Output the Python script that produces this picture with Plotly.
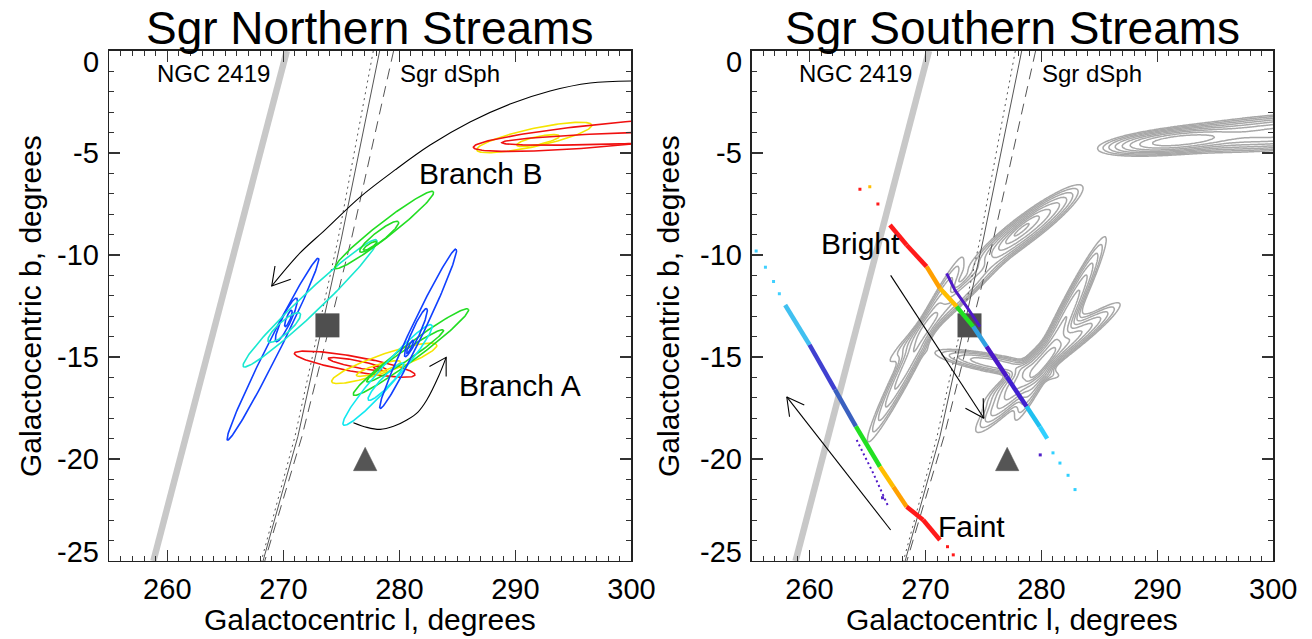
import numpy as np
import plotly.graph_objects as go

# ---------------- figure geometry ----------------
W_FIG, H_FIG = 1312, 639
X_DOM_L = [0.0833, 0.4813]
X_DOM_R = [0.5728, 0.9705]
Y_DOM = [0.1221, 0.9202]
L_RANGE = [255, 300]
B_RANGE = [-25, 0]
SX = (X_DOM_L[1] - X_DOM_L[0]) * W_FIG / (L_RANGE[1] - L_RANGE[0])   # px per degree of l
SY = (Y_DOM[1] - Y_DOM[0]) * H_FIG / (B_RANGE[1] - B_RANGE[0])       # px per degree of b

# ---------------- data ----------------
ngc_l = [270.3, 258.8]
ngc_b = [0.0, -25.0]
sgr_b = [0.0, -9.26, -18.9, -25.0]
sgr_dot_l = [277.75, 274.7, 271.0, 268.1]
sgr_solid_l = [278.3, 274.98, 271.25, 268.25]
sgr_dash_l = [279.5, 275.85, 271.6, 268.4]

square_l, square_b = [273.8], [-13.45]
tri_l, tri_b = 277.05, -20.0
TRI_PX = 23.4

ring_color = ["#1040ff", "#1040ff", "#1040ff",
              "#18e8d0", "#18e8d0",
              "#22dd22", "#22dd22", "#22dd22",
              "#f01010", "#f01010", "#f01010",
              "#f5e400", "#f5e400",
              "#22dd22", "#22dd22",
              "#10e8f0", "#10e8f0",
              "#1040ff", "#1040ff", "#1040ff",
              "#f5e400", "#f5e400",
              "#f01010", "#f01010"]
ring_a_l = [265.18, 269.37, 270.15, 266.56, 268.71, 274.46, 276.6, 276.9,
            270.95, 273.88, 277.76, 274.17, 276.3, 276.04, 277.19, 275.18, 277.33,
            278.34, 280.49, 280.64, 286.67, 290.12, 286.38, 288.82]
ring_a_b = [-19.07, -14.25, -13.51, -15.47, -14.25, -10.65, -9.84, -9.75,
            -14.82, -15.07, -15.47, -16.21, -15.9, -16.86, -16.21, -18.33, -17.11,
            -17.52, -14.98, -14.82, -4.85, -4.61, -4.72, -4.49]
ring_b_l = [273.02, 271.15, 270.72, 278.05, 271.44, 282.94, 279.92, 278.05,
            281.35, 278.91, 278.48, 283.22, 280.1, 285.95, 283.8, 282.79, 280.35,
            284.89, 282.36, 281.21, 296.58, 293.79, 312.0, 311.1]
ring_b_b = [-10.16, -12.12, -12.7, -9.27, -12.86, -6.90, -8.37, -9.35,
            -15.88, -15.64, -15.64, -14.41, -15.23, -12.66, -13.68, -13.43, -15.31,
            -9.71, -12.62, -14.17, -3.63, -4.17, -3.38, -4.04]
ring_w = [13, 9, 4, 20, 12, 15, 10, 4,
          15, 7, 3, 18, 8, 16, 10, 18, 10,
          13, 8, 3, 18, 8, 23, 11]

comp_a_l = [286.5, 291.0, 274.5, 276.5, 265.2, 266.6, 278.3, 276.0, 275.0, 271.0, 278.8]
comp_a_b = [-4.7, -4.4, -10.5, -9.6, -19.0, -15.4, -17.5, -16.9, -18.3, -14.8, -16.2]
comp_b_l = [297.0, 312.0, 282.9, 280.0, 273.0, 278.0, 285.0, 286.0, 282.8, 281.3, 281.2]
comp_b_b = [-4.1, -3.5, -6.9, -7.9, -10.3, -9.3, -9.7, -12.7, -13.4, -15.9, -14.6]
comp_w = [20, 30, 24, 10, 18, 18, 18, 20, 22, 18, 8]
comp_amp = [1.0, 0.6, 0.5, 0.4, 0.3, 0.2, 0.5, 0.5, 0.5, 0.3, 1.5]
contour_levels = [0.035, 1.2, 1.55]

bright_l = [266.94, 268.38, 270.1, 271.25, 272.69, 274.12, 275.27, 277.0, 278.72, 279.87, 280.5]
bright_b = [-8.53, -9.51, -10.57, -11.63, -12.53, -13.51, -14.49, -15.96, -17.43, -18.42, -19.0]
bright_c = ["#ff1a1a", "#ff1a1a", "#ffa000", "#ffbe00", "#22e022", "#30a0e0",
            "#4a18c8", "#4020d0", "#20c0f0", "#30d0ff"]
bright2_l = [271.83, 272.54, 273.55, 274.7]
bright2_b = [-10.9, -11.72, -12.53, -13.51]
faint_l = [257.9, 260.0, 262.2, 264.0, 266.08, 267.23, 268.38, 269.81, 271.25]
faint_b = [-12.45, -14.4, -16.6, -18.4, -20.38, -21.36, -22.34, -22.99, -23.97]
faint_c = ["#40c0f0", "#4040d0", "#3a60c0", "#22e022", "#ffbe00", "#ffa000",
           "#ff1a1a", "#ff1a1a"]
faint2_l = [264.07, 265.5, 266.8]
faint2_b = [-19.07, -20.7, -22.34]
sparse_l = [264.35, 265.2, 265.9, 281.0, 281.6, 282.3, 282.9, 279.9, 255.4, 256.2, 256.9, 257.4, 271.9, 272.4, 266.3]
sparse_b = [-6.78, -6.65, -7.5, -19.7, -20.2, -20.8, -21.5, -19.8, -9.8, -10.6, -11.3, -11.9, -24.3, -24.7, -21.9]
sparse_c = ["#ff1a1a", "#ffbe00", "#ff1a1a", "#30d0ff", "#30d0ff", "#30d0ff", "#30d0ff", "#5020c8",
            "#40d0ff", "#40d0ff", "#40d0ff", "#40d0ff", "#ff1a1a", "#ff1a1a", "#5020c8"]

arcB_l = [299.97, 296.44, 292.99, 289.54, 286.09, 282.65, 279.63, 276.61, 273.6, 271.44, 269.0]
arcB_b = [-1.47, -1.57, -1.96, -2.60, -3.48, -4.61, -5.83, -7.16, -8.77, -9.90, -11.52]
headB_l = [269.28, 269.0, 270.64]
headB_b = [-10.54, -11.52, -11.19]
arcA_l = [276.04, 277.2, 278.34, 279.5, 280.64, 281.6, 282.36, 283.37, 284.03]
arcA_b = [-18.22, -18.45, -18.55, -18.4, -18.09, -17.7, -17.11, -15.96, -15.02]
headA_l = [282.59, 284.03, 284.03]
headA_b = [-15.47, -15.02, -15.96]
brightArrow_l = [267.0, 275.04]
brightArrow_b = [-11.0, -18.0]
brightHead_l = [273.45, 275.04, 274.98]
brightHead_b = [-17.51, -18.0, -17.02]
faintArrow_l = [267.0, 258.04]
faintArrow_b = [-23.48, -16.96]
faintHead_l = [258.28, 258.04, 259.55]
faintHead_b = [-17.93, -16.96, -17.36]

x_ticks = [260, 270, 280, 290, 300]
y_ticks = [0, -5, -10, -15, -20, -25]
y_tick_shift = [-11, 0, 0, 0, 0, 9]   # px (up positive): end labels sit inside the axis span, as in the original

FONT = "Liberation Sans"


def ellipse_ring(al, ab, bl, bb, w, n=160):
    ua, va = al * SX, ab * SY
    ub, vb = bl * SX, bb * SY
    cu, cv = (ua + ub) / 2, (va + vb) / 2
    du, dv = ub - ua, vb - va
    half = np.hypot(du, dv) / 2
    e1 = np.array([du, dv]) / (2 * half)
    e2 = np.array([-e1[1], e1[0]])
    t = np.linspace(0, 2 * np.pi, n)
    u = cu + half * np.cos(t) * e1[0] + w / 2 * np.sin(t) * e2[0]
    v = cv + half * np.cos(t) * e1[1] + w / 2 * np.sin(t) * e2[1]
    return u / SX, v / SY


def density(L, B):
    U, V = L * SX, B * SY
    tot = np.zeros_like(U)
    for al, ab, bl, bb, w, a in zip(comp_a_l, comp_a_b, comp_b_l, comp_b_b, comp_w, comp_amp):
        ua, va, ub, vb = al * SX, ab * SY, bl * SX, bb * SY
        cu, cv = (ua + ub) / 2, (va + vb) / 2
        du, dv = ub - ua, vb - va
        half = np.hypot(du, dv) / 2
        e1 = np.array([du, dv]) / (2 * half)
        d1 = (U - cu) * e1[0] + (V - cv) * e1[1]
        d2 = -(U - cu) * e1[1] + (V - cv) * e1[0]
        tot += a * np.exp(-0.5 * ((d1 / (half / 2)) ** 2 + (d2 / (w / 4)) ** 2))
    return tot


fig = go.Figure()


def add_common(xa, ya):
    fig.add_trace(go.Scatter(x=ngc_l, y=ngc_b, mode="lines", xaxis=xa, yaxis=ya,
                             line=dict(color="#c8c8c8", width=6.5), hoverinfo="skip", showlegend=False))
    for lv, dash in ((sgr_dot_l, "2px,4px"), (sgr_solid_l, "solid"), (sgr_dash_l, "11px,7px")):
        fig.add_trace(go.Scatter(x=lv, y=sgr_b, mode="lines", xaxis=xa, yaxis=ya,
                                 line=dict(color="#555555", width=1, dash=dash),
                                 hoverinfo="skip", showlegend=False))


def add_markers(xa, ya):
    fig.add_trace(go.Scatter(x=square_l, y=square_b, mode="markers", xaxis=xa, yaxis=ya,
                             marker=dict(symbol="square", size=24, color="#4f4f4f", line=dict(width=0)),
                             hoverinfo="skip", showlegend=False))
    h = TRI_PX / 2
    tx = [tri_l, tri_l + h / SX, tri_l - h / SX, tri_l]
    ty = [tri_b + h / SY, tri_b - h / SY, tri_b - h / SY, tri_b + h / SY]
    fig.add_trace(go.Scatter(x=tx, y=ty, mode="lines", fill="toself", xaxis=xa, yaxis=ya,
                             fillcolor="#555555", line=dict(color="#555555", width=0.5),
                             hoverinfo="skip", showlegend=False))


def add_line(lx, ly, xa, ya, color="black", width=1.1):
    fig.add_trace(go.Scatter(x=lx, y=ly, mode="lines", xaxis=xa, yaxis=ya,
                             line=dict(color=color, width=width, shape="spline" if len(lx) > 3 else "linear"),
                             hoverinfo="skip", showlegend=False))


# ---------------- left panel ----------------
add_common("x", "y")
for c, al, ab, bl, bb, w in zip(ring_color, ring_a_l, ring_a_b, ring_b_l, ring_b_b, ring_w):
    ex, ey = ellipse_ring(al, ab, bl, bb, w)
    fig.add_trace(go.Scatter(x=ex, y=ey, mode="lines", line=dict(color=c, width=1.6),
                             hoverinfo="skip", showlegend=False))
add_markers("x", "y")
add_line(arcB_l, arcB_b, "x", "y")
fig.add_trace(go.Scatter(x=headB_l, y=headB_b, mode="lines", line=dict(color="black", width=1.1),
                         hoverinfo="skip", showlegend=False))
add_line(arcA_l, arcA_b, "x", "y")
fig.add_trace(go.Scatter(x=headA_l, y=headA_b, mode="lines", line=dict(color="black", width=1.1),
                         hoverinfo="skip", showlegend=False))

# ---------------- right panel ----------------
add_common("x2", "y2")
lg = np.arange(254.0, 301.0, 0.1)
bg = np.arange(-26.0, 1.0, 0.08)
LG, BG = np.meshgrid(lg, bg)
dens = density(LG, BG)
c0, c1, cr = contour_levels
fig.add_trace(go.Contour(x=lg, y=bg, z=np.log10(dens + 1e-12), xaxis="x2", yaxis="y2",
                         contours=dict(start=np.log10(c0), end=np.log10(c1), size=np.log10(cr),
                                       coloring="lines"),
                         colorscale=[[0, "#a8a8a8"], [1, "#a8a8a8"]], showscale=False,
                         line=dict(width=1.5, smoothing=0), hoverinfo="skip"))
add_markers("x2", "y2")
for i, c in enumerate(bright_c):
    fig.add_trace(go.Scatter(x=bright_l[i:i + 2], y=bright_b[i:i + 2], mode="lines", xaxis="x2", yaxis="y2",
                             line=dict(color=c, width=4.5), hoverinfo="skip", showlegend=False))
fig.add_trace(go.Scatter(x=bright2_l, y=bright2_b, mode="lines", xaxis="x2", yaxis="y2",
                         line=dict(color="#5018c8", width=3), hoverinfo="skip", showlegend=False))
for i, c in enumerate(faint_c):
    fig.add_trace(go.Scatter(x=faint_l[i:i + 2], y=faint_b[i:i + 2], mode="lines", xaxis="x2", yaxis="y2",
                             line=dict(color=c, width=4.5), hoverinfo="skip", showlegend=False))
fig.add_trace(go.Scatter(x=faint2_l, y=faint2_b, mode="lines", xaxis="x2", yaxis="y2",
                         line=dict(color="#5018c8", width=2, dash="2px,3px"), hoverinfo="skip", showlegend=False))
fig.add_trace(go.Scatter(x=sparse_l, y=sparse_b, mode="markers", xaxis="x2", yaxis="y2",
                         marker=dict(symbol="square", size=3, color=sparse_c), hoverinfo="skip", showlegend=False))
for lx, ly in ((brightArrow_l, brightArrow_b), (brightHead_l, brightHead_b),
               (faintArrow_l, faintArrow_b), (faintHead_l, faintHead_b)):
    fig.add_trace(go.Scatter(x=lx, y=ly, mode="lines", xaxis="x2", yaxis="y2",
                             line=dict(color="black", width=1.1), hoverinfo="skip", showlegend=False))

# ---------------- axes ----------------
TICK_C = "#333333"


def xaxis_cfg(dom, anchor):
    return dict(domain=dom, anchor=anchor, range=L_RANGE, tickmode="array", tickvals=x_ticks,
                ticktext=[str(v) for v in x_ticks], ticks="inside", ticklen=11, tickwidth=1.5,
                tickcolor=TICK_C, showline=True, linecolor="#222222", linewidth=1.5, mirror="ticks",
                showgrid=False, zeroline=False, ticklabelstandoff=2, automargin=False,
                tickfont=dict(family=FONT, size=29, color="black"),
                minor=dict(tickmode="linear", tick0=255, dtick=1, ticks="inside", ticklen=5,
                           tickcolor=TICK_C, tickwidth=1, showgrid=False))


def yaxis_cfg(anchor):
    return dict(domain=Y_DOM, anchor=anchor, range=B_RANGE, tickmode="array", tickvals=y_ticks,
                ticks="inside", ticklen=11, tickwidth=1.5, showticklabels=False,
                tickcolor=TICK_C, showline=True, linecolor="#222222", linewidth=1.5, mirror="ticks",
                showgrid=False, zeroline=False, automargin=False,
                minor=dict(tickmode="linear", tick0=0, dtick=1, ticks="inside", ticklen=5,
                           tickcolor=TICK_C, tickwidth=1, showgrid=False))


ann = []
def txt(x, y, s, size, xref, yref, angle=0, yanchor="middle", xanchor="center", xshift=0, yshift=0):
    ann.append(dict(x=x, y=y, xref=xref, yref=yref, text=s, showarrow=False, textangle=angle,
                    xanchor=xanchor, yanchor=yanchor, xshift=xshift, yshift=yshift,
                    font=dict(family=FONT, size=size, color="black")))


for xr, yr in (("x", "y"), ("x2", "y2")):
    txt(263.97, -1.09, "NGC 2419", 24, xr, yr)
    txt(284.4, -1.09, "Sgr dSph", 24, xr, yr)
    for v, sh in zip(y_ticks, y_tick_shift):
        txt(0, v, str(v), 29, xr + " domain", yr, xanchor="right", xshift=-8, yshift=sh)
txt(287.0, -6.0, "Branch B", 30, "x", "y")
txt(290.4, -16.4, "Branch A", 30, "x", "y")
txt(264.44, -9.46, "Bright", 30, "x2", "y2")
txt(273.98, -23.3, "Faint", 30, "x2", "y2")
txt(370 / W_FIG, 1.0, "Sgr Northern Streams", 46, "paper", "paper", yanchor="top")
txt(1012 / W_FIG, 1.0, "Sgr Southern Streams", 46, "paper", "paper", yanchor="top")
txt(370 / W_FIG, 1 - 619 / H_FIG, "Galactocentric l, degrees", 30, "paper", "paper")
txt(1012 / W_FIG, 1 - 619 / H_FIG, "Galactocentric l, degrees", 30, "paper", "paper")
txt(30 / W_FIG, 1 - 306 / H_FIG, "Galactocentric b, degrees", 30, "paper", "paper", -90)
txt(668 / W_FIG, 1 - 306 / H_FIG, "Galactocentric b, degrees", 30, "paper", "paper", -90)

fig.update_layout(width=W_FIG, height=H_FIG, margin=dict(l=0, r=0, t=0, b=0),
                  paper_bgcolor="white", plot_bgcolor="white", showlegend=False,
                  xaxis=xaxis_cfg(X_DOM_L, "y"), yaxis=yaxis_cfg("x"),
                  xaxis2=xaxis_cfg(X_DOM_R, "y2"), yaxis2=yaxis_cfg("x2"),
                  annotations=ann)

fig.write_html("out.html", config={"displayModeBar": False, "staticPlot": True},
               post_script="document.body.style.margin='0px';document.body.style.overflow='hidden';")
